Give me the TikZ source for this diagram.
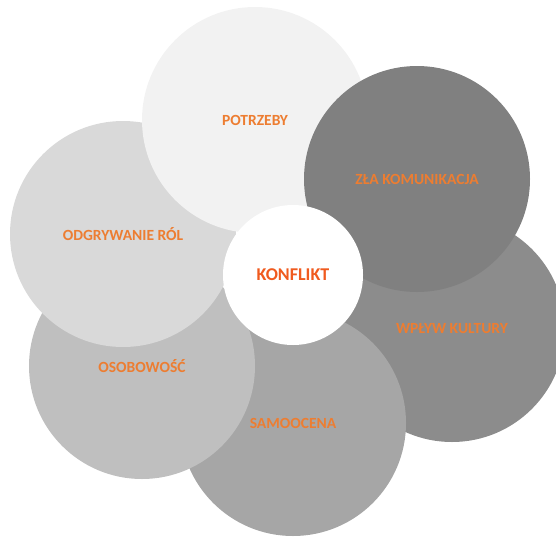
\documentclass[tikz,border=0pt]{standalone}
\usepackage{fontspec}
\setmainfont{Carlito}
\usepackage{tikz}
\usetikzlibrary{positioning}

\definecolor{labelorange}{HTML}{ED7D31}
\definecolor{corered}{HTML}{F05A1E}

\begin{document}
\begin{tikzpicture}[
  x=1pt, y=-1pt,
  bubble/.style={circle, minimum size=226pt, inner sep=0pt,
    font=\fontsize{15.5}{17}\selectfont\bfseries, text=labelorange},
  core/.style={circle, fill=white, minimum size=140pt, inner sep=0pt,
    font=\fontsize{18}{20}\selectfont\bfseries, text=corered}
  ]
  \useasboundingbox (0,0) rectangle (556,538);
  % outer ring, drawn from the bottom layer up
  \node[bubble, fill=black!45] (kultura) at (452,329) {WPŁYW KULTURY};
  \node[bubble, fill=black!35] (samoocena) at (293,423) {SAMOOCENA};
  \node[bubble, fill=black!25] (osobowosc) at (142,366) {OSOBOWOŚĆ};
  \node[bubble, fill=black!15] (role) at (123,234) {ODGRYWANIE RÓL};
  \node[bubble, fill=black!5] (potrzeby) at (255,120) {POTRZEBY};
  \node[bubble, fill=black!50] (komunikacja) at (417,179) {ZŁA KOMUNIKACJA};
  % centre
  \node[core] (konflikt) at (293,275) {KONFLIKT};
\end{tikzpicture}
\end{document}
